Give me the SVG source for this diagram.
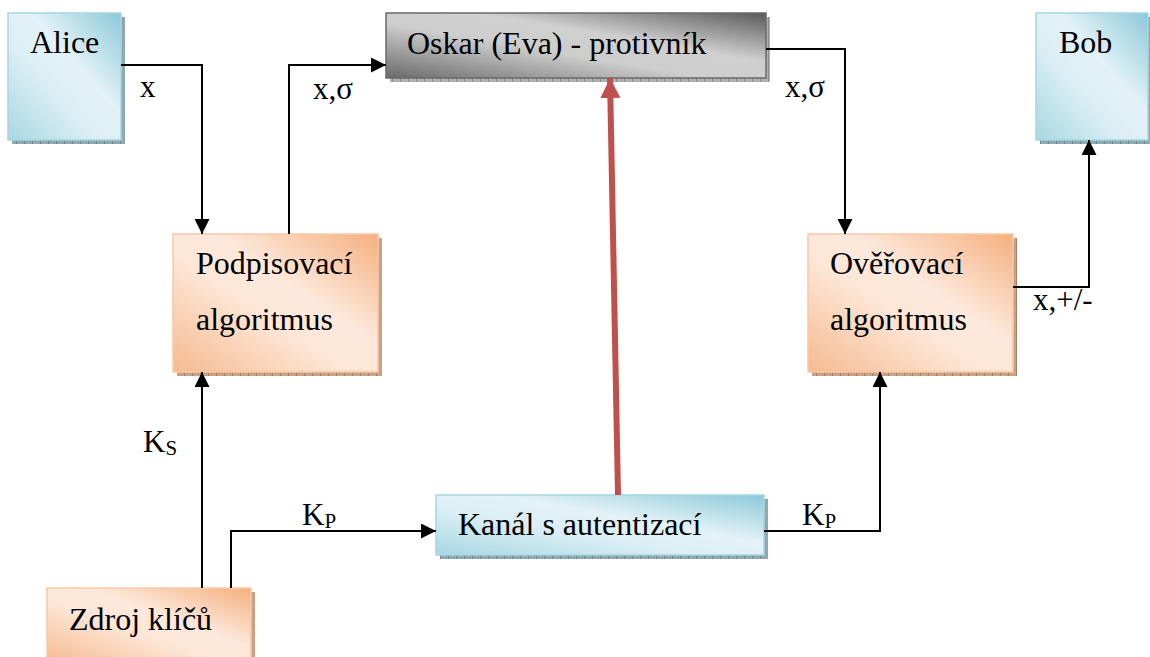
<svg xmlns="http://www.w3.org/2000/svg" width="1150" height="657" viewBox="0 0 1150 657" font-family="'Liberation Serif', 'Times New Roman', serif">
  <defs>
    <linearGradient id="gBlue" x1="0" y1="1" x2="1" y2="0">
      <stop offset="0" stop-color="#a8d7e3"/>
      <stop offset="0.4" stop-color="#dceff5"/>
      <stop offset="0.6" stop-color="#e3f2f7"/>
      <stop offset="1" stop-color="#8cc9d9"/>
    </linearGradient>
    <linearGradient id="gOrange" x1="0" y1="1" x2="1" y2="0">
      <stop offset="0" stop-color="#f6ba90"/>
      <stop offset="0.42" stop-color="#fde6d6"/>
      <stop offset="0.6" stop-color="#fde9dc"/>
      <stop offset="1" stop-color="#f5af7e"/>
    </linearGradient>
    <linearGradient id="gGrey" x1="0" y1="1" x2="1" y2="0">
      <stop offset="0" stop-color="#6a6a6a"/>
      <stop offset="0.42" stop-color="#cdcdcd"/>
      <stop offset="0.62" stop-color="#d0d0d0"/>
      <stop offset="1" stop-color="#5a5a5a"/>
    </linearGradient>
    <pattern id="pShadeBlue" width="8" height="8" patternUnits="userSpaceOnUse">
      <rect width="8" height="8" fill="#8fa9b0"/>
      <rect width="1" height="8" fill="#6f8890"/>
    </pattern>
    <pattern id="pShadeOrange" width="8" height="8" patternUnits="userSpaceOnUse">
      <rect width="8" height="8" fill="#c9a184"/>
      <rect width="1" height="8" fill="#a88066"/>
    </pattern>
    <pattern id="pShadeGrey" width="8" height="8" patternUnits="userSpaceOnUse">
      <rect width="8" height="8" fill="#b0b0b0"/>
      <rect width="1" height="8" fill="#8e8e8e"/>
    </pattern>
    <marker id="arrow" markerUnits="userSpaceOnUse" markerWidth="15" markerHeight="15" refX="15" refY="7.5" orient="auto">
      <path d="M0,0 L15,7.5 L0,15 z" fill="#000"/>
    </marker>
    <marker id="arrowRed" markerUnits="userSpaceOnUse" markerWidth="21" markerHeight="21" refX="20" refY="10" orient="auto">
      <path d="M0,0 L20,10 L0,20 z" fill="#c0504d"/>
    </marker>
  </defs>
  <style>
    text { font-family: "Liberation Serif", "Times New Roman", serif; font-size: 32px; fill: #000; }
    .lbl { font-size: 31px; }
    .sub { font-size: 21px; }
    .conn { fill: none; stroke: #000; stroke-width: 2; marker-end: url(#arrow); }
    .blue { fill: url(#gBlue); stroke: #a6d6e2; stroke-width: 1.5; }
    .orange { fill: url(#gOrange); stroke: #f9c9a6; stroke-width: 1.5; }
    .grey { fill: url(#gGrey); stroke: #6a6a6a; stroke-width: 1.5; }
  </style>

  <!-- nodes -->
  <g id="alice">
    <rect x="12" y="17" width="113" height="127" fill="url(#pShadeBlue)"/>
    <rect class="blue" x="8" y="13" width="113" height="127"/>
    <text x="30" y="53">Alice</text>
  </g>
  <g id="bob">
    <rect x="1040" y="17" width="112" height="127" fill="url(#pShadeBlue)"/>
    <rect class="blue" x="1036" y="13" width="112" height="127"/>
    <text x="1059" y="53">Bob</text>
  </g>
  <g id="oskar">
    <rect x="390" y="17" width="380" height="65" fill="url(#pShadeGrey)"/>
    <rect class="grey" x="386" y="13" width="380" height="65"/>
    <text x="407" y="54">Oskar (Eva) - protivník</text>
  </g>
  <g id="podpisovaci">
    <rect x="177" y="238" width="205" height="138" fill="url(#pShadeOrange)"/>
    <rect class="orange" x="173" y="234" width="205" height="138"/>
    <text x="196" y="274">Podpisovací</text>
    <text x="196" y="330">algoritmus</text>
  </g>
  <g id="overovaci">
    <rect x="812" y="238" width="205" height="138" fill="url(#pShadeOrange)"/>
    <rect class="orange" x="808" y="234" width="205" height="138"/>
    <text x="830" y="274">Ověřovací</text>
    <text x="830" y="330">algoritmus</text>
  </g>
  <g id="kanal">
    <rect x="440" y="499" width="328" height="60" fill="url(#pShadeBlue)"/>
    <rect class="blue" x="436" y="495" width="328" height="60"/>
    <text x="458" y="535">Kanál s autentizací</text>
  </g>
  <g id="zdroj">
    <rect x="51" y="592" width="204" height="75" fill="url(#pShadeOrange)"/>
    <rect class="orange" x="47" y="588" width="204" height="75"/>
    <text x="69" y="630">Zdroj klíčů</text>
  </g>

  <!-- connectors -->
  <g id="connectors">
    <path class="conn" d="M121,65 H202 V234"/>
    <path class="conn" d="M289,234 V65 H386"/>
    <path class="conn" d="M766,49 H845 V234"/>
    <path class="conn" d="M1013,287 H1089 V140"/>
    <path class="conn" d="M202,588 V372"/>
    <path class="conn" d="M231,588 V531 H436"/>
    <path class="conn" d="M764,531 H880 V372"/>
    <path d="M618,495 L610,78" fill="none" stroke="#c0504d" stroke-width="6" marker-end="url(#arrowRed)"/>

    <text class="lbl" x="140" y="97">x</text>
    <text class="lbl" x="313" y="99">x,σ</text>
    <text class="lbl" x="785" y="97">x,σ</text>
    <text class="lbl" x="1033" y="310">x,+/-</text>
    <text class="lbl" x="143" y="452">K<tspan class="sub" dy="3">S</tspan></text>
    <text class="lbl" x="302" y="525">K<tspan class="sub" dy="3">P</tspan></text>
    <text class="lbl" x="802" y="525">K<tspan class="sub" dy="3">P</tspan></text>
  </g>
</svg>
